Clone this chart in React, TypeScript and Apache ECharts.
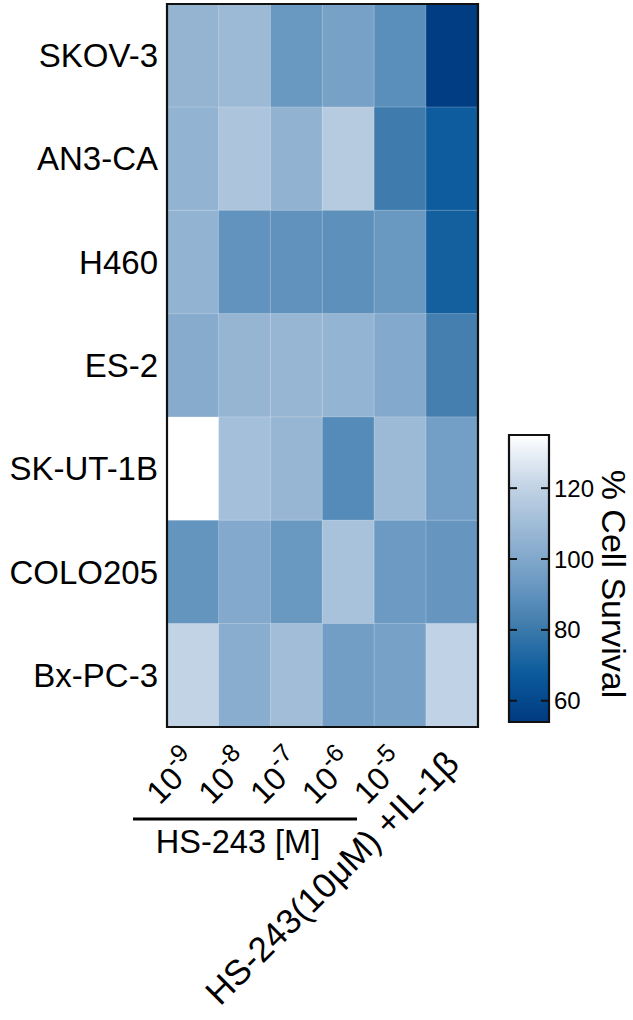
import React, { useEffect, useRef } from 'react';
import * as echarts from 'echarts';

const FONT = '"Liberation Sans", Arial, Helvetica, sans-serif';

const cellLines = ['SKOV-3', 'AN3-CA', 'H460', 'ES-2', 'SK-UT-1B', 'COLO205', 'Bx-PC-3'];
const treatments = ['10^-9', '10^-8', '10^-7', '10^-6', '10^-5', 'HS-243(10μM) +IL-1β'];

// % cell survival per cell line, one value per treatment column
const skov3 = [106, 108.5, 92.8, 96.9, 89, 55.3];
const an3ca = [105.6, 113.4, 105.1, 116.6, 81, 68.3];
const h460 = [105.6, 90.7, 90.3, 89.4, 92.8, 69.9];
const es2 = [101.7, 106.6, 107, 106.1, 100.8, 82.3];
const skut1b = [135, 111.2, 107, 87.3, 108.5, 95.9];
const colo205 = [91.5, 100.8, 92.8, 112.5, 93.7, 92];
const bxpc3 = [120.2, 102.7, 110.3, 95.5, 96.9, 119.8];

const survivalRows = [skov3, an3ca, h460, es2, skut1b, colo205, bxpc3];

const colorbarTicks = [60, 80, 100, 120];
const scaleMin = 54;
const scaleMax = 135;
const palette = ['#003a80', '#0b5a9c', '#3f7cad', '#6f9cc4', '#9ab8d5', '#c6d6e7', '#ffffff'];

export default function App() {
  const ref = useRef<HTMLDivElement>(null);

  useEffect(() => {
    if (!ref.current) return;
    const chart = echarts.init(ref.current, null, { renderer: 'svg' });

    const data: number[][] = [];
    survivalRows.forEach((row, r) => {
      row.forEach((v, c) => data.push([c, r, v]));
    });

    const grid = { left: 167, top: 4, width: 311, height: 723 };
    const cb = { x: 509, y: 435, w: 40, h: 287 };
    const yOf = (v: number) => cb.y + cb.h - ((v - scaleMin) / (scaleMax - scaleMin)) * cb.h;

    const stops = palette.map((c, i) => ({ offset: i / (palette.length - 1), color: c }));

    const graphics: any[] = [
      {
        type: 'rect',
        z: 100,
        shape: { x: grid.left, y: grid.top, width: grid.width, height: grid.height },
        style: { fill: 'none', stroke: '#111', lineWidth: 2.2 },
      },
      {
        type: 'rect',
        z: 100,
        shape: { x: cb.x, y: cb.y, width: cb.w, height: cb.h },
        style: {
          fill: new echarts.graphic.LinearGradient(0, 1, 0, 0, stops),
          stroke: '#111',
          lineWidth: 2.2,
        },
      },
      {
        type: 'text',
        z: 100,
        x: 614,
        y: 584,
        rotation: -Math.PI / 2,
        style: {
          text: '% Cell Survival',
          fontSize: 34,
          fontFamily: FONT,
          fill: '#000',
          align: 'center',
          verticalAlign: 'middle',
        },
      },
      {
        type: 'line',
        z: 100,
        shape: { x1: 133, y1: 819, x2: 357, y2: 819 },
        style: { stroke: '#000', lineWidth: 3.2 },
      },
      {
        type: 'text',
        z: 100,
        x: 238,
        y: 842,
        style: {
          text: 'HS-243 [M]',
          fontSize: 32.5,
          fontFamily: FONT,
          fill: '#000',
          align: 'center',
          verticalAlign: 'middle',
        },
      },
    ];

    colorbarTicks.forEach((t) => {
      const y = yOf(t);
      graphics.push(
        { type: 'line', z: 101, shape: { x1: cb.x, y1: y, x2: cb.x + 8, y2: y }, style: { stroke: '#111', lineWidth: 2 } },
        { type: 'line', z: 101, shape: { x1: cb.x + cb.w - 8, y1: y, x2: cb.x + cb.w, y2: y }, style: { stroke: '#111', lineWidth: 2 } },
        {
          type: 'text',
          z: 101,
          x: cb.x + cb.w + 5,
          y,
          style: { text: String(t), fontSize: 24, fontFamily: FONT, fill: '#000', align: 'left', verticalAlign: 'middle' },
        }
      );
    });

    chart.setOption({
      animation: false,
      backgroundColor: '#fff',
      grid: { ...grid, outerBoundsMode: 'none' },
      xAxis: {
        type: 'category',
        data: treatments,
        axisLine: { show: false },
        axisTick: { show: false },
        splitArea: { show: false },
        axisLabel: {
          interval: 0,
          rotate: 45,
          margin: 30,
          color: '#000',
          fontFamily: FONT,
          formatter: (v: string) =>
            v.startsWith('10^') ? `{b|10}{s|${v.slice(3)}}` : `{L|${v}}`,
          rich: {
            b: { fontSize: 32, fontFamily: FONT, color: '#000', lineHeight: 33 },
            s: { fontSize: 25, fontFamily: FONT, color: '#000', lineHeight: 26, padding: [0, 0, 26, 0] },
            L: { fontSize: 35, fontFamily: FONT, color: '#000', lineHeight: 36 },
          },
        },
      },
      yAxis: {
        type: 'category',
        data: cellLines,
        inverse: true,
        axisLine: { show: false },
        axisTick: { show: false },
        axisLabel: { fontSize: 33, color: '#000', fontFamily: FONT, margin: 9 },
      },
      visualMap: {
        show: false,
        min: scaleMin,
        max: scaleMax,
        dimension: 2,
        inRange: { color: palette },
      },
      graphic: graphics,
      series: [
        {
          type: 'heatmap',
          data,
          itemStyle: { borderColor: 'rgba(255,255,255,0.22)', borderWidth: 1 },
          emphasis: { disabled: true },
        },
      ],
    });

    return () => chart.dispose();
  }, []);

  return (
    <div
      ref={ref}
      style={{ position: 'fixed', left: 0, top: 0, width: 633, height: 1020, background: '#fff' }}
    />
  );
}
